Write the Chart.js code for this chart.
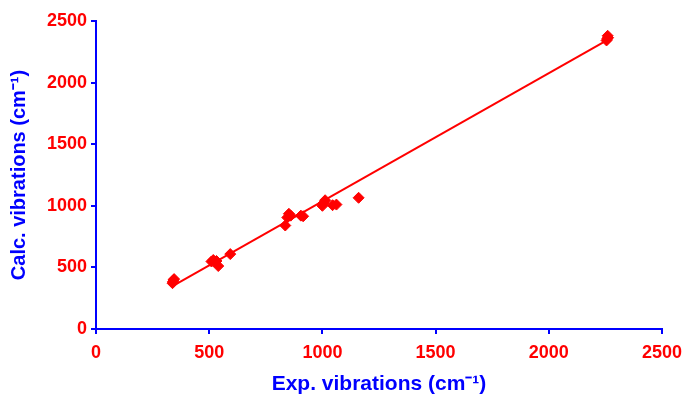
<!DOCTYPE html>
<html>
<head>
<meta charset="utf-8">
<script src="https://cdn.jsdelivr.net/npm/chart.js@4"></script>
<style>
  html, body { margin: 0; padding: 0; background: #fff; }
  #wrap { width: 683px; height: 397px; }
</style>
</head>
<body>
<div id="wrap"><canvas id="chart"></canvas></div>
<script>
// measured points (exp, calc)
const expVals = [338, 340, 342, 345, 510, 518, 525, 532, 540, 593, 836, 845, 852, 860, 905, 915, 1000, 1005, 1012, 1045, 1062, 1160, 2255, 2258, 2260, 2262];
const calcVals = [372, 385, 398, 405, 548, 560, 545, 552, 511, 608, 840, 905, 935, 920, 920, 915, 1000, 1022, 1045, 1005, 1010, 1065, 2342, 2355, 2380, 2365];
// regression line end points
const fitX = [340, 2258];
const fitY = [350, 2345];
const tickVals = [0, 500, 1000, 1500, 2000, 2500];

const points = expVals.map((x, i) => ({ x: x, y: calcVals[i] }));
const fitLine = fitX.map((x, i) => ({ x: x, y: fitY[i] }));

const axisBlue = '#0000ff';
const red = '#ff0000';

const ctx = document.getElementById('chart').getContext('2d');
new Chart(ctx, {
  type: 'scatter',
  data: {
    datasets: [
      {
        label: 'fit',
        type: 'line',
        data: fitLine,
        borderColor: red,
        borderWidth: 2,
        pointRadius: 0,
        fill: false
      },
      {
        label: 'points',
        data: points,
        pointStyle: 'rectRot',
        pointRadius: 5.5,
        backgroundColor: red,
        borderColor: red,
        borderWidth: 1
      }
    ]
  },
  options: {
    responsive: true,
    maintainAspectRatio: false,
    animation: false,
    layout: { padding: { left: 7, right: 21, top: 21, bottom: 0 } },
    plugins: {
      legend: { display: false },
      tooltip: { enabled: false }
    },
    scales: {
      x: {
        type: 'linear',
        min: 0,
        max: 2500,
        afterBuildTicks: s => { s.ticks = tickVals.map(v => ({ value: v })); },
        afterFit: s => { s.height = 68; s.paddingRight = 0; s.paddingLeft = 0; },
        border: { color: axisBlue, width: 2 },
        grid: { drawOnChartArea: false, color: axisBlue, lineWidth: 2, tickLength: 5 },
        ticks: {
          color: red,
          font: { family: 'Liberation Sans', size: 18, weight: 'bold' },
          padding: 8,
          maxRotation: 0,
          callback: v => String(v)
        },
        title: {
          display: true,
          text: 'Exp. vibrations (cm\u207B\u00B9)',
          color: axisBlue,
          font: { family: 'Liberation Sans', size: 21, weight: 'bold' },
          padding: { top: 5, bottom: 0 }
        }
      },
      y: {
        type: 'linear',
        min: 0,
        max: 2500,
        afterBuildTicks: s => { s.ticks = tickVals.map(v => ({ value: v })); },
        afterFit: s => { s.width = 89; s.paddingTop = 0; s.paddingBottom = 0; },
        border: { color: axisBlue, width: 2 },
        grid: { drawOnChartArea: false, color: axisBlue, lineWidth: 2, tickLength: 5 },
        ticks: {
          color: red,
          font: { family: 'Liberation Sans', size: 18, weight: 'bold' },
          padding: 4,
          callback: v => String(v)
        },
        title: {
          display: true,
          text: 'Calc. vibrations (cm\u207B\u00B9)',
          color: axisBlue,
          font: { family: 'Liberation Sans', size: 20, weight: 'bold' },
          padding: { top: 0, bottom: 4 }
        }
      }
    }
  }
});
</script>
</body>
</html>
